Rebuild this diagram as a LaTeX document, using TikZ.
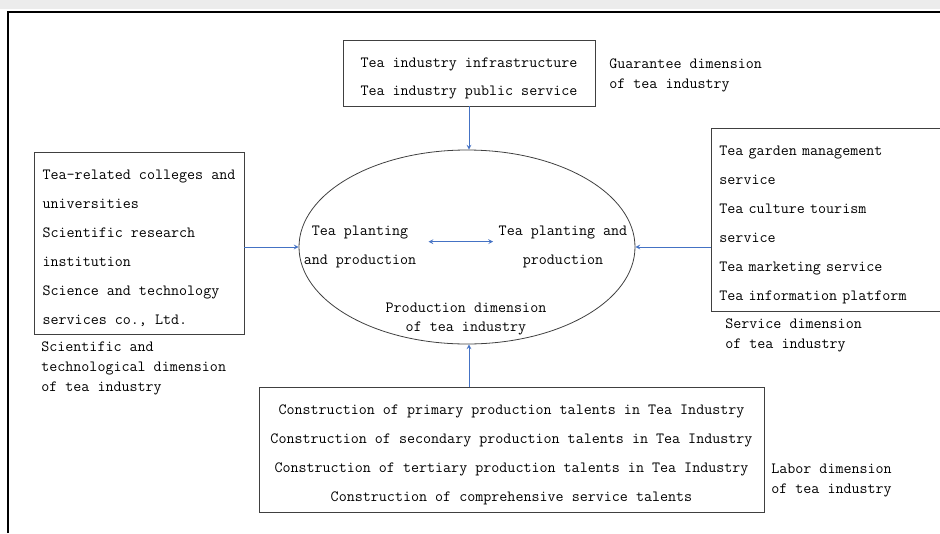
\documentclass[tikz,border=0pt]{standalone}
\usetikzlibrary{shapes.geometric, arrows, positioning}
\definecolor{linkblue}{RGB}{68,114,196}
\definecolor{edgegray}{RGB}{64,64,64}
\newcommand{\padtop}{\rule{0pt}{14.7pt}}
\tikzstyle{link} = [->, >=stealth, draw=linkblue, line width=0.6pt]
\tikzstyle{box} = [rectangle, draw=edgegray, line width=0.6pt, inner sep=0pt, font=\ttfamily\fontsize{11.7}{21.75}\selectfont]
\tikzstyle{dimlabel} = [inner sep=0pt, anchor=west, align=left, font=\ttfamily\fontsize{11.7}{15}\selectfont]

\begin{document}
\begin{tikzpicture}[x=0.75pt, y=-0.75pt]
\useasboundingbox (0,0) rectangle (940,533);
\fill[gray!15] (0,0) rectangle (940,9);
\draw[line width=1pt] (8,533) -- (8,12) -- (940,12);

% production core
\node (core) [ellipse, draw=edgegray, line width=0.6pt, minimum width=252pt, minimum height=145.5pt] at (467,247) {};
\node (plantleft) [dimlabel, anchor=center, align=center, font=\ttfamily\fontsize{11.7}{21.75}\selectfont] at (360,247) {Tea planting\\and production};
\node (plantright) [dimlabel, anchor=center, align=center, font=\ttfamily\fontsize{11.7}{21.75}\selectfont] at (563,247) {Tea planting and\\production};
\node (corelabel) [dimlabel, anchor=center, align=center, font=\ttfamily\fontsize{11.7}{14.25}\selectfont] at (466,319) {Production dimension\\of tea industry};

% surrounding boxes
\node (infra) [box, align=center, minimum width=189pt, minimum height=49.5pt, font=\ttfamily\fontsize{11.7}{21}\selectfont] at (469,73) {\padtop Tea industry infrastructure\\Tea industry public service};
\node (science) [box, align=left, minimum width=157.5pt, minimum height=136.5pt] at (139,243) {\padtop Tea-related colleges and\\universities\\Scientific research\\institution\\Science and technology\\services co., Ltd.};
\node (service) [box, anchor=west, align=left, text width=198pt, minimum width=210pt, minimum height=137.25pt] at (711,219.5) {\padtop Tea garden management\\service\\Tea culture tourism\\service\\Tea marketing service\\Tea information platform};
\node (labor) [box, align=center, minimum width=378.75pt, minimum height=93.75pt] at (511.5,449.5) {\padtop Construction of primary production talents in Tea Industry\\Construction of secondary production talents in Tea Industry\\Construction of tertiary production talents in Tea Industry\\Construction of comprehensive service talents};

% dimension labels
\node (infralabel) [dimlabel] at (609,75) {Guarantee dimension\\of tea industry};
\node (servicelabel) [dimlabel] at (725,335) {Service dimension\\of tea industry};
\node (sciencelabel) [dimlabel] at (41,368) {Scientific and\\technological dimension\\of tea industry};
\node (laborlabel) [dimlabel] at (771,481) {Labor dimension\\of tea industry};

\draw[link] (infra.south) -- (infra.south |- core.north);
\draw[link] (science.east |- core.west) -- (core.west);
\draw[link] (service.west |- core.east) -- (core.east);
\draw[link] ([xshift=1.5pt]labor.north -| core.south) -- ([xshift=1.5pt]core.south);
\draw[link, <->, shorten >=4pt, shorten <=9pt] ([yshift=4pt]plantleft.east) -- ([yshift=4pt]plantright.west);
\end{tikzpicture}
\end{document}
